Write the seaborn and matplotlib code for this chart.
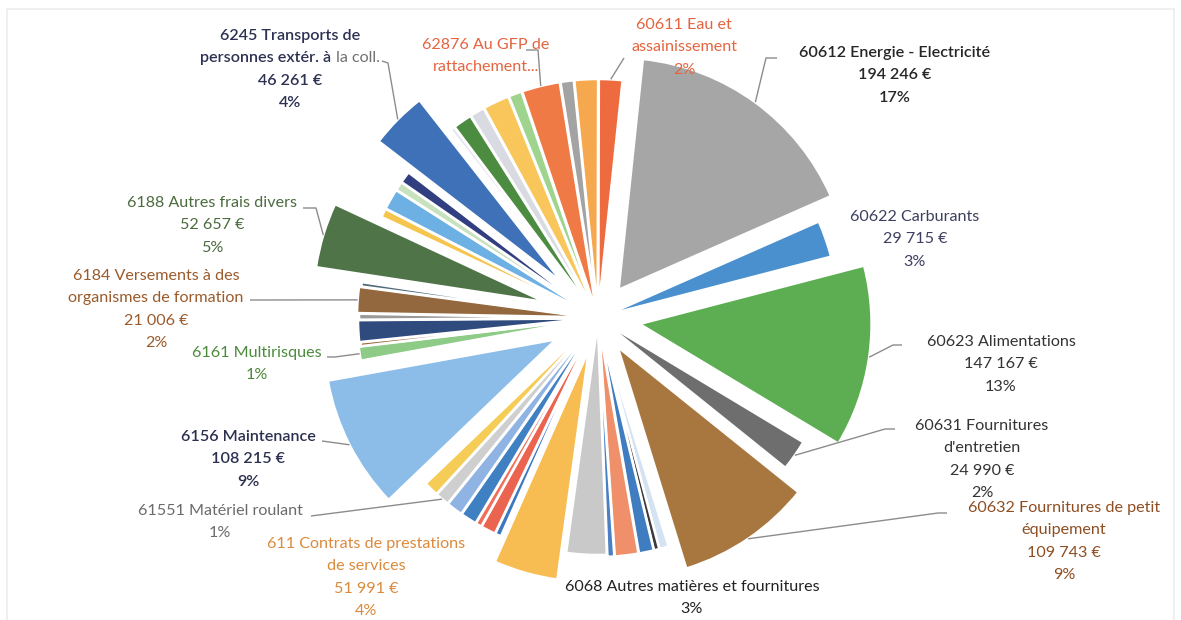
import matplotlib
matplotlib.use("Agg")
import matplotlib.pyplot as plt
from matplotlib.patches import Rectangle
import seaborn as sns
import numpy as np

# ---------------- data (clockwise from the top) ----------------
accounts = ["60612", "60622", "60623", "60631", "60632",
            "", "", "", "", "",
            "6068", "611",
            "", "", "", "", "", "61551", "",
            "6156", "6161", "", "", "", "6184", "", "6188",
            "", "", "", "", "6245",
            "", "", "", "", "", "62876", "", "", "60611"]
amounts = [194246, 29715, 147167, 24990, 109743,
           7500, 4300, 12000, 19000, 5500,
           32500, 51991,
           5000, 12000, 5000, 13200, 13200, 11400, 12000,
           108215, 11200, 3000, 17500, 4800, 21006, 3500, 52657,
           7200, 16800, 7200, 9500, 46261,
           3600, 15300, 11800, 21300, 10700, 30800, 10700, 19000, 19000]
slice_colors = ["#A6A6A6", "#4A90CE", "#5DAE52", "#6E6E6E", "#A8773F",
                "#D5E2F2", "#3A3A3A", "#3F7DC0", "#F0906A", "#4A7FC4",
                "#C9C9C9", "#F8BD52",
                "#3D78BE", "#EA6450", "#EE6F5A", "#3F80C2", "#8FB3E2", "#CFCFCF", "#F5CC55",
                "#8BBDE8", "#8DCB86", "#9B6A3C", "#2F4A7C", "#9A9A9A", "#94683E", "#4F6A7A", "#4F7448",
                "#F5C54E", "#6DB0E3", "#C8E2C0", "#313F80", "#3F71B8",
                "#E2E6EE", "#4C8C40", "#DADAE2", "#F8C65A", "#9ED48E", "#EF7A46", "#A3A3A3", "#F6A84E", "#EE6B3F"]

label_accounts = ["6245", "62876", "60611", "60612", "60622", "60623", "60631", "60632",
                  "6068", "611", "61551", "6156", "6161", "6184", "6188"]
label_titles = [["6245 Transports de", "personnes extér. à la coll."],
                ["62876 Au GFP de", "rattachement..."],
                ["60611 Eau et", "assainissement"],
                ["60612 Energie - Electricité"],
                ["60622 Carburants"],
                ["60623 Alimentations"],
                ["60631 Fournitures", "d'entretien"],
                ["60632 Fournitures de petit", "équipement"],
                ["6068 Autres matières et fournitures"],
                ["611 Contrats de prestations", "de services"],
                ["61551 Matériel roulant"],
                ["6156 Maintenance"],
                ["6161 Multirisques"],
                ["6184 Versements à des", "organismes de formation"],
                ["6188 Autres frais divers"]]
show_value = [True, False, False, True, True, True, True, True, False, True, False, True, False, True, True]
show_pct = [True, False, True, True, True, True, True, True, True, True, True, True, True, True, True]

# ---------------- layout / style ----------------
W, H = 1181, 620
explode_px = [35, 9, 42, 8, 35,
              7, 7, 7, 7, 7,
              5, 33,
              7, 7, 7, 7, 7, 7, 7,
              47, 9, 7, 8, 7, 9, 7, 55,
              7, 7, 7, 7, 50,
              7, 7, 7, 7, 7, 7, 7, 7, 7]
label_pos = {"6245": (290, 36), "62876": (486, 45), "60611": (684, 25), "60612": (895, 53),
             "60622": (915, 217), "60623": (1001, 342), "60631": (982, 426), "60632": (1064, 508),
             "6068": (692, 587), "611": (366, 544), "61551": (220, 511), "6156": (248, 437),
             "6161": (257, 353), "6184": (156, 276), "6188": (212, 203)}
label_colors = {"6245": "#2D3152", "62876": "#E4643F", "60611": "#E4643F", "60612": "#262626",
                "60622": "#3C3F5E", "60623": "#333333", "60631": "#333333", "60632": "#8E4E22",
                "6068": "#222222", "611": "#DB8A3C", "61551": "#6B6B6B", "6156": "#2C3050",
                "6161": "#4C8A3B", "6184": "#9A5B2C", "6188": "#4C6B3F"}
bold_labels = {"6245", "60612", "6156"}
grey_suffix = {"6245": " la coll."}
leaders = {"6245": [(382, 61), (388, 63)], "62876": [(526, 50), (538, 50)],
           "60611": [(624, 58)], "60612": [(777, 58), (766, 58)],
           "60623": [(902, 345), (893, 345)], "60631": [(895, 429), (885, 429)],
           "60632": [(947, 513), (938, 513)], "61551": [(311, 516)], "6156": [(322, 441)],
           "6161": [(327, 357), (335, 357)], "6184": [(250, 300), (258, 300)],
           "6188": [(303, 208), (316, 208)]}
LINE_STEP = 22.3
FS = 11.6

sns.set_theme(style="white")
plt.rcParams["font.family"] = ["Lato", "DejaVu Sans"]

fig = plt.figure(figsize=(W / 100, H / 100), dpi=100)
ax = fig.add_axes([0, 0, 1, 1])

wedges, _ = ax.pie(amounts, colors=slice_colors, startangle=84, counterclock=False,
                   radius=232, center=(598, H - 318), explode=explode_px,
                   wedgeprops=dict(edgecolor="white", linewidth=1.8))
ax.set_xlim(0, W)
ax.set_ylim(0, H)
ax.set_aspect("equal", adjustable="box")
ax.set_position([0, 0, 1, 1])
ax.axis("off")

# faint chart border of the original
ax.add_patch(Rectangle((7, -20), W - 14, H - 9 + 20, fill=False, edgecolor="#ECECEC",
                       lw=1.2, zorder=0))

total = float(sum(amounts))
renderer = fig.canvas.get_renderer()


def fmt_value(v):
    return f"{v:,}".replace(",", " ") + " €"


for k, acc in enumerate(label_accounts):
    idx = accounts.index(acc)
    lines = list(label_titles[k])
    if show_value[k]:
        lines.append(fmt_value(amounts[idx]))
    if show_pct[k]:
        lines.append(f"{round(100 * amounts[idx] / total)}%")
    cx, y0 = label_pos[acc]
    col = label_colors[acc]
    weight = "semibold" if acc in bold_labels else "normal"
    for j, line in enumerate(lines):
        y = H - (y0 + j * LINE_STEP)
        suf = grey_suffix.get(acc)
        if suf and line.endswith(suf.strip()):
            head = line[: -len(suf)]
            t1 = ax.text(0, y, head, color=col, fontsize=FS, fontweight=weight, ha="left", va="center")
            t2 = ax.text(0, y, suf, color="#707070", fontsize=FS, ha="left", va="center")
            w1 = t1.get_window_extent(renderer).width
            w2 = t2.get_window_extent(renderer).width
            x = cx - (w1 + w2) / 2
            t1.set_x(x)
            t2.set_x(x + w1)
        else:
            ax.text(cx, y, line, color=col, fontsize=FS, fontweight=weight, ha="center", va="center")

    if acc in leaders:
        w = wedges[idx]
        mid = np.deg2rad((w.theta1 + w.theta2) / 2)
        ex = w.center[0] + w.r * np.cos(mid)
        ey = w.center[1] + w.r * np.sin(mid)
        pts = leaders[acc]
        xs = [p[0] for p in pts] + [ex]
        ys = [H - p[1] for p in pts] + [ey]
        ax.plot(xs, ys, color="#8C8C8C", lw=1.0, solid_capstyle="butt")

fig.savefig("out.png", dpi=100, facecolor="white")
